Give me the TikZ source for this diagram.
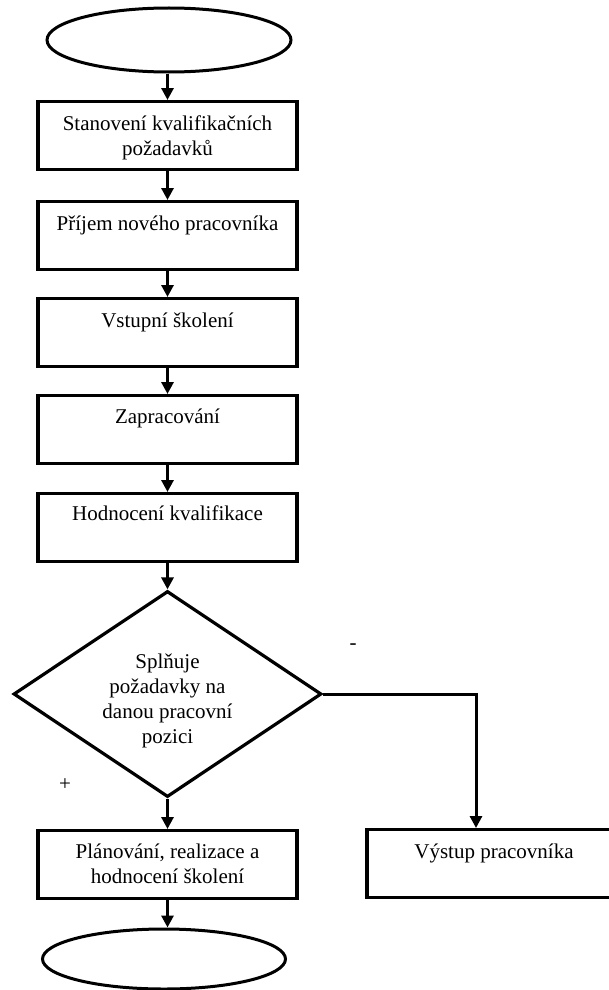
\documentclass[tikz,border=0pt]{standalone}
\usepackage{fontspec}
\setmainfont{Liberation Serif}
\usetikzlibrary{shapes.geometric,arrows.meta}
\begin{document}
\begin{tikzpicture}[x=1pt,y=-1pt,
  every node/.style={font=\fontsize{21}{25}\selectfont},
  procbox/.style={draw, line width=3.2pt, rectangle, minimum width=259pt, minimum height=68pt, inner sep=0pt, anchor=north},
  boxtext/.style={anchor=base, align=center, inner sep=0pt},
  terminal/.style={draw, line width=3pt, ellipse, inner sep=0pt},
  decision/.style={draw, line width=3.2pt, diamond, minimum width=308pt, minimum height=206pt, inner sep=0pt},
  arr/.style={line width=3pt, -{Triangle[length=12pt,width=12pt]}},
  plain/.style={line width=3pt}
]
\useasboundingbox (0,0) rectangle (609,990);
\clip (0,0) rectangle (609,990);

% start terminal
\node[terminal, minimum width=244pt, minimum height=64pt] (start) at (169,40) {};

% process boxes
\node[procbox] (b1) at (167.5,100) {};
\node[boxtext] (t1) at (167.5,155) {Stanovení kvalifikačních\\požadavků};
\node[procbox] (b2) at (167.5,200) {};
\node[boxtext] (t2) at (167.5,230) {Příjem nového pracovníka};
\node[procbox] (b3) at (167.5,297) {};
\node[boxtext] (t3) at (167.5,327) {Vstupní školení};
\node[procbox] (b4) at (167.5,394) {};
\node[boxtext] (t4) at (167.5,423) {Zapracování};
\node[procbox] (b5) at (167.5,492) {};
\node[boxtext] (t5) at (167.5,520) {Hodnocení kvalifikace};

% decision
\node[decision] (d) at (167.5,694) {};
\node[align=center, inner sep=0pt] (dt) at (167.5,701) {Splňuje\\požadavky na\\danou pracovní\\pozici};

% branches
\node[procbox] (b6) at (167.5,829) {};
\node[boxtext] (t6) at (167.5,883) {Plánování, realizace a\\hodnocení školení};
\node[procbox, minimum width=254pt] (out) at (494,828) {};
\node[boxtext] (t7) at (494,858) {Výstup pracovníka};

% end terminal
\node[terminal, minimum width=243pt, minimum height=60pt] (end) at (164,959) {};

% labels
\node[inner sep=0pt] (minus) at (353,647) {-};
\node[inner sep=0pt] (plus) at (65,785) {+};

% connectors
\draw[arr] (start.south -| b1.north) -- (b1.north);
\draw[arr] (b1.south) -- (b2.north);
\draw[arr] (b2.south) -- (b3.north);
\draw[arr] (b3.south) -- (b4.north);
\draw[arr] (b4.south) -- (b5.north);
\draw[arr] (b5.south) -- (d.north);
\draw[arr] (d.south) -- (b6.north);
\coordinate (outin) at (476,828);
\draw[arr] (d.east) -| (outin);
\draw[arr] (b6.south) -- (b6.south |- end.north);
\end{tikzpicture}
\end{document}
